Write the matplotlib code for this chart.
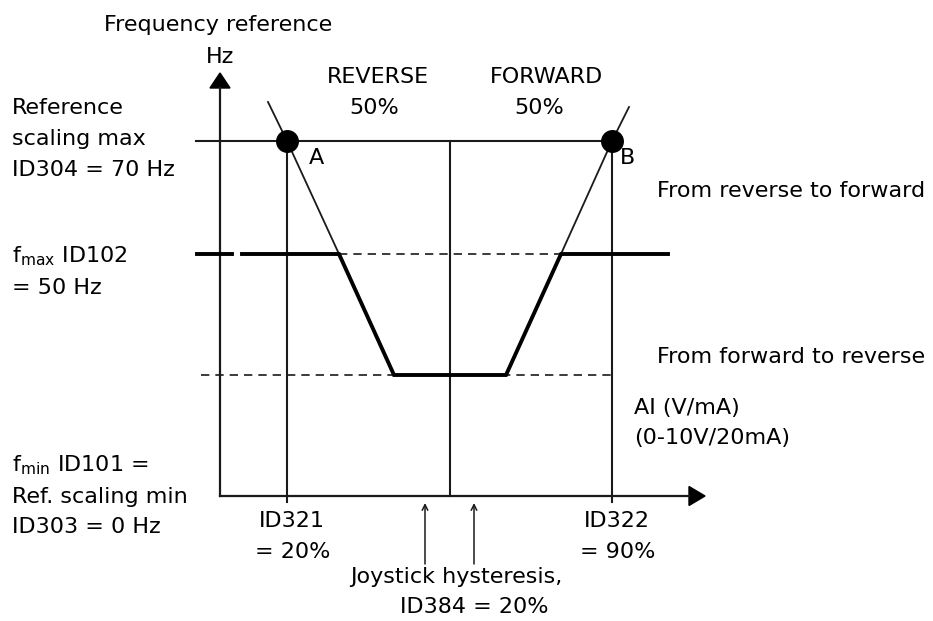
import matplotlib
matplotlib.use("Agg")
import matplotlib.pyplot as plt
from matplotlib.patches import Polygon

plt.rcParams['font.family'] = ['DejaVu Sans']
plt.rcParams['mathtext.fontset'] = 'dejavusans'

# diagram units: pixels, y grows downwards
origin_x, origin_y = 220, 496
yaxis_top, yaxis_tip = 88, 73
xaxis_end, xaxis_tip = 689, 705

# AI positions: ID321 (20 %), centre of the joystick, ID322 (90 %)
ai_x = [287, 450, 612]
ai_names = ["ID321", "", "ID322"]
ai_values = ["= 20%", "", "= 90%"]

# frequency levels: ref. scaling max, fmax, hysteresis floor
level_refmax = 141
level_fmax = 254
level_low = 375

# thick trace (output frequency)
trace_x = [242, 339, 394, 506, 561, 668]
trace_y = [254, 254, 375, 375, 254, 254]
stub_x = [197, 232]

# thin scaling lines through A and B
scale_left_x = [268, 287, 339]
scale_left_y = [102, 141, 254]
scale_right_x = [561, 612, 629]
scale_right_y = [254, 141, 107]

# joystick hysteresis markers
hyst_x = [425, 474]

ink = '#1a1a1a'
fs = 16

fig = plt.figure(figsize=(9.33, 6.21), dpi=100)
ax = fig.add_axes([0, 0, 1, 1])
ax.set_xlim(0, 933)
ax.set_ylim(621, 0)
ax.axis('off')

# axes with filled arrow heads
ax.plot([origin_x, origin_x], [origin_y, yaxis_top], color=ink, lw=1.6)
ax.plot([origin_x, xaxis_end], [origin_y, origin_y], color=ink, lw=1.6)
ax.add_patch(Polygon([[origin_x - 10, yaxis_top], [origin_x + 10, yaxis_top],
                      [origin_x, yaxis_tip]], closed=True, color='black'))
ax.add_patch(Polygon([[xaxis_end, origin_y - 9.5], [xaxis_end, origin_y + 9.5],
                      [xaxis_tip, origin_y]], closed=True, color='black'))

# reference scaling max line and verticals
ax.plot([196, ai_x[2]], [level_refmax, level_refmax], color=ink, lw=1.5)
ax.plot([ai_x[0], ai_x[0]], [level_refmax, 502], color=ink, lw=1.5)
ax.plot([ai_x[1], ai_x[1]], [level_refmax, origin_y], color=ink, lw=1.5)
ax.plot([ai_x[2], ai_x[2]], [level_refmax, 502], color=ink, lw=1.5)

# dashed helper levels
dash = (5.0, 3.6)
ax.plot([trace_x[1], trace_x[4]], [level_fmax, level_fmax], color=ink, lw=1.2,
        dashes=dash)
ax.plot([201, ai_x[2]], [level_low, level_low], color=ink, lw=1.2, dashes=dash)

# thin scaling lines
ax.plot(scale_left_x, scale_left_y, color=ink, lw=1.3)
ax.plot(scale_right_x, scale_right_y, color=ink, lw=1.3)

# thick output trace
ax.plot(trace_x, trace_y, color='black', lw=2.8, solid_joinstyle='miter')
ax.plot(stub_x, [level_fmax, level_fmax], color='black', lw=2.8)

# points A and B
ax.plot([ai_x[0], ai_x[2]], [level_refmax, level_refmax], 'o', color='black',
        ms=15.5)
ax.text(316, 158, "A", fontsize=fs, ha='center', va='center')
ax.text(628, 158, "B", fontsize=fs, ha='center', va='center')

# hysteresis arrows
for hx in hyst_x:
    ax.annotate('', xy=(hx, 503), xytext=(hx, 564),
                arrowprops=dict(arrowstyle='->', lw=1.1, color=ink,
                                shrinkA=0, shrinkB=0))

# labels
ax.text(104, 25, "Frequency reference", fontsize=fs, ha='left', va='center')
ax.text(220, 57, "Hz", fontsize=fs, ha='center', va='center')
ax.text(378, 77, "REVERSE", fontsize=fs, ha='center', va='center')
ax.text(374, 108, "50%", fontsize=fs, ha='center', va='center')
ax.text(546, 77, "FORWARD", fontsize=fs, ha='center', va='center')
ax.text(539, 108, "50%", fontsize=fs, ha='center', va='center')

left_max = ["Reference", "scaling max", "ID304 = 70 Hz"]
for i, s in enumerate(left_max):
    ax.text(12, 108 + i * 31, s, fontsize=fs, ha='left', va='center')

ax.text(12, 256, r"f$_{\mathregular{max}}$ ID102", fontsize=fs, ha='left',
        va='center')
ax.text(12, 288, "= 50 Hz", fontsize=fs, ha='left', va='center')

ax.text(12, 465, r"f$_{\mathregular{min}}$ ID101 =", fontsize=fs, ha='left',
        va='center')
ax.text(12, 497, "Ref. scaling min", fontsize=fs, ha='left', va='center')
ax.text(12, 527, "ID303 = 0 Hz", fontsize=fs, ha='left', va='center')

ax.text(657, 191, "From reverse to forward", fontsize=fs, ha='left',
        va='center')
ax.text(657, 357, "From forward to reverse", fontsize=fs, ha='left',
        va='center')
ax.text(634, 408, "AI (V/mA)", fontsize=fs, ha='left', va='center')
ax.text(634, 438, "(0-10V/20mA)", fontsize=fs, ha='left', va='center')

for x, name, val in zip(ai_x, ai_names, ai_values):
    if name:
        ax.text(x + 5, 521, name, fontsize=fs, ha='center', va='center')
        ax.text(x + 6, 552, val, fontsize=fs, ha='center', va='center')

ax.text(456, 577, "Joystick hysteresis,", fontsize=fs, ha='center',
        va='center')
ax.text(474, 607, "ID384 = 20%", fontsize=fs, ha='center', va='center')

fig.savefig("out.png", dpi=100, facecolor='white')
